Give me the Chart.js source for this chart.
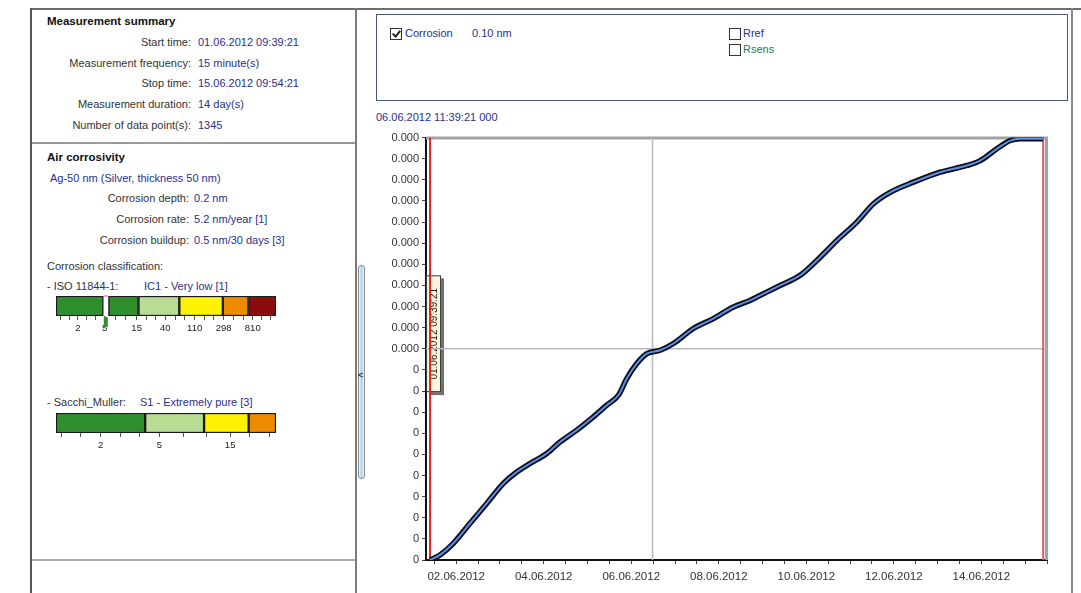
<!DOCTYPE html>
<html>
<head>
<meta charset="utf-8">
<script src="https://cdn.jsdelivr.net/npm/chart.js@4.4.0/dist/chart.umd.min.js"></script>
<style>
  html, body { margin: 0; padding: 0; background: #fff; }
  body { width: 1081px; height: 593px; position: relative; overflow: hidden;
         font-family: "Liberation Sans", Arial, sans-serif; font-size: 11px; color: #333; }
  .t { position: absolute; white-space: nowrap; line-height: 13px; }
  .hd { font-weight: bold; color: #111; font-size: 11.5px; }
  .lb { left: 0; text-align: right; }
  .v { color: #2b2f8a; }
  .ln { position: absolute; }
  .cb { position: absolute; width: 10px; height: 10px; border: 1px solid #333; background: #fff; }
  .cb.on::after { content: ""; position: absolute; left: 3px; top: 0px; width: 3px; height: 6px;
                  border: solid #222; border-width: 0 2px 2px 0; transform: rotate(40deg); }
  canvas { position: absolute; }
</style>
</head>
<body>

<!-- panel frames -->
<div class="ln" style="left:30px;top:8px;width:1051px;height:2px;background:#6e6e6e"></div>
<div class="ln" style="left:30px;top:8px;width:2px;height:585px;background:#555"></div>
<div class="ln" style="left:355px;top:8px;width:2px;height:585px;background:#7a7a7a"></div>
<div class="ln" style="left:32px;top:142px;width:323px;height:2px;background:#9a9a9a"></div>
<div class="ln" style="left:32px;top:559px;width:323px;height:2px;background:#a8a8a8"></div>
<div class="ln" style="left:1071px;top:8px;width:2px;height:585px;background:#8a8a8a"></div>

<!-- splitter handle -->
<div class="ln" style="left:358px;top:265px;width:5px;height:212px;border:1px solid #8c8c8c;border-radius:3px;background:linear-gradient(to right,#f2f8fd,#a9d1ef,#eef6fc)"></div>
<div class="t" style="left:358px;top:369px;font-size:9px;font-weight:bold;color:#333">&lt;</div>

<!-- measurement summary -->
<div class="t hd" style="left:47px;top:15px">Measurement summary</div>
<div class="t lb" style="width:191px;top:36px">Start time:</div>
<div class="t v" style="left:198px;top:36px">01.06.2012 09:39:21</div>
<div class="t lb" style="width:191px;top:57px">Measurement frequency:</div>
<div class="t v" style="left:198px;top:57px">15 minute(s)</div>
<div class="t lb" style="width:191px;top:77px">Stop time:</div>
<div class="t v" style="left:198px;top:77px">15.06.2012 09:54:21</div>
<div class="t lb" style="width:191px;top:98px">Measurement duration:</div>
<div class="t v" style="left:198px;top:98px">14 day(s)</div>
<div class="t lb" style="width:191px;top:119px">Number of data point(s):</div>
<div class="t v" style="left:198px;top:119px">1345</div>

<!-- air corrosivity -->
<div class="t hd" style="left:47px;top:151px">Air corrosivity</div>
<div class="t v" style="left:50px;top:172px">Ag-50 nm (Silver, thickness 50 nm)</div>
<div class="t lb" style="width:189px;top:192px">Corrosion depth:</div>
<div class="t v" style="left:194px;top:192px">0.2 nm</div>
<div class="t lb" style="width:189px;top:213px">Corrosion rate:</div>
<div class="t v" style="left:194px;top:213px">5.2 nm/year [1]</div>
<div class="t lb" style="width:189px;top:234px">Corrosion buildup:</div>
<div class="t v" style="left:194px;top:234px">0.5 nm/30 days [3]</div>
<div class="t" style="left:47px;top:260px">Corrosion classification:</div>
<div class="t" style="left:47px;top:280px">- ISO 11844-1:</div>
<div class="t v" style="left:144px;top:280px">IC1 - Very low [1]</div>
<div class="t" style="left:47px;top:396px">- Sacchi_Muller:</div>
<div class="t v" style="left:140px;top:396px">S1 - Extremely pure [3]</div>

<canvas id="iso" width="235" height="50" style="left:50px;top:290px"></canvas>
<canvas id="sacchi" width="235" height="50" style="left:50px;top:407px"></canvas>

<!-- series selector -->
<div class="ln" style="left:376px;top:14px;width:690px;height:85px;border:1.5px solid #4b5878"></div>
<div class="cb on" style="left:390px;top:28px"></div>
<div class="t v" style="left:405px;top:27px">Corrosion</div>
<div class="t v" style="left:472px;top:27px">0.10 nm</div>
<div class="cb" style="left:729px;top:28px"></div>
<div class="t v" style="left:743px;top:27px">Rref</div>
<div class="cb" style="left:729px;top:44px"></div>
<div class="t" style="left:743px;top:43px;color:#1f7a4c">Rsens</div>

<div class="t v" style="left:376px;top:111px">06.06.2012 11:39:21 000</div>

<canvas id="main" width="700" height="465" style="left:370px;top:128px"></canvas>

<script>
// Corrosion series: x = days since 01.06.2012 00:00, y = corrosion depth in nm
const corrosionDays = [0.4023, 0.631, 0.935, 1.317, 1.698, 2.078, 2.384, 2.688, 3.070, 3.374,
  3.755, 4.135, 4.441, 4.706, 4.898, 5.127, 5.356, 5.660, 5.964, 6.420, 6.878, 7.335, 7.716,
  7.869, 8.402, 8.860, 9.241, 9.698, 10.155, 10.535, 10.916, 11.449, 12.059, 12.669, 12.974,
  13.355, 13.660, 13.888, 14.4127];
const corrosionNm = [0, 0.0024, 0.0079, 0.0174, 0.0268, 0.0363, 0.0417, 0.0457, 0.0504, 0.0559,
  0.0615, 0.0678, 0.0733, 0.0780, 0.0859, 0.0930, 0.0977, 0.0993, 0.1025, 0.1096, 0.1143, 0.1198,
  0.1229, 0.1245, 0.1300, 0.1348, 0.1418, 0.1513, 0.1600, 0.1687, 0.1741, 0.1789, 0.1836, 0.1868,
  0.1891, 0.1947, 0.1986, 0.1995, 0.1995];

// Measurement window and cursor
const startDay = 0.4023;     // 01.06.2012 09:39:21
const stopDay = 14.4127;     // 15.06.2012 09:54:21
const cursorDay = 5.486;     // 06.06.2012 11:39:21
const cursorNm = 0.10;
const startLabel = '01.06.2012 09:39:21';

// Axis ranges and tick labels
const xMin = 0.31, xMax = 14.5;
const yMin = 0, yMax = 0.2, yStep = 0.01;
const xTickDays = [1, 3, 5, 7, 9, 11, 13];
const xTickLabels = ['02.06.2012', '04.06.2012', '06.06.2012', '08.06.2012', '10.06.2012', '12.06.2012', '14.06.2012'];
const yTickLabels = ['0', '0', '0', '0', '0', '0', '0', '0', '0', '0',
  '0.000', '0.000', '0.000', '0.000', '0.000', '0.000', '0.000', '0.000', '0.000', '0.000', '0.000'];

// Classification scales
const isoBounds = [[0.94, 4.8], [5.7, 16], [16, 65], [65, 290], [290, 700], [700, 1800]];
const isoColors = ['#2f8f2f', '#2f8f2f', '#b8dc94', '#fff200', '#f08a00', '#8a0c0c'];
const isoTicks = [2, 5, 15, 40, 110, 298, 810];
const isoRange = [0.94, 1800];
const isoRate = 5.2;
const sacchiBounds = [[1, 4], [4, 10], [10, 20], [20, 30.6]];
const sacchiColors = ['#2f8f2f', '#b8dc94', '#fff200', '#f08a00'];
const sacchiTicks = [2, 5, 15];
const sacchiRange = [1, 30.6];

const FONT = '"Liberation Sans", Arial, sans-serif';
const pts = corrosionDays.map((d, i) => ({ x: d, y: corrosionNm[i] }));
const vline = (x) => [{ x, y: yMin }, { x, y: yMax }];

// gray frame on top/right plus the rotated start-time tag
const framePlugin = {
  id: 'frame',
  beforeDatasetsDraw(chart) {
    const { ctx, chartArea: a, scales } = chart;
    ctx.save();
    ctx.strokeStyle = '#a2a2a2';
    ctx.lineWidth = 3;
    ctx.beginPath();
    ctx.moveTo(a.left, a.top + 0.5);
    ctx.lineTo(a.right - 0.5, a.top + 0.5);
    ctx.lineTo(a.right - 0.5, a.bottom);
    ctx.stroke();

    const x0 = scales.x.getPixelForValue(startDay) - 4;
    const top = scales.y.getPixelForValue(0.1348);
    const bot = scales.y.getPixelForValue(0.0795);
    const w = 15, h = bot - top;
    ctx.fillStyle = '#707070';
    ctx.fillRect(x0 + 3, top + 3, w, h);
    ctx.fillStyle = '#fbf5da';
    ctx.fillRect(x0, top, w, h);
    ctx.strokeStyle = '#3a3a3a';
    ctx.lineWidth = 1;
    ctx.strokeRect(x0 + 0.5, top + 0.5, w - 1, h - 1);
    ctx.translate(x0 + w / 2, top + h / 2);
    ctx.rotate(-Math.PI / 2);
    ctx.fillStyle = '#1e1e1e';
    ctx.font = '10px ' + FONT;
    ctx.textAlign = 'center';
    ctx.textBaseline = 'middle';
    ctx.fillText(startLabel, 0, 1);
    ctx.restore();
  }
};

new Chart(document.getElementById('main'), {
  type: 'line',
  data: {
    datasets: [
      { data: pts, borderColor: '#5a90dc', borderWidth: 2, pointRadius: 0, cubicInterpolationMode: 'monotone' },
      { data: pts, borderColor: '#0b0b1c', borderWidth: 5.5, pointRadius: 0, cubicInterpolationMode: 'monotone' },
      { data: vline(startDay), borderColor: '#e32626', borderWidth: 2, pointRadius: 0 },
      { data: vline(stopDay), borderColor: '#ec5a5a', borderWidth: 2, pointRadius: 0 },
      { data: vline(cursorDay), borderColor: '#b9b9b9', borderWidth: 1.5, pointRadius: 0 },
      { data: [{ x: xMin, y: cursorNm }, { x: xMax, y: cursorNm }], borderColor: '#b9b9b9', borderWidth: 1.5, pointRadius: 0 }
    ]
  },
  options: {
    responsive: false,
    animation: false,
    devicePixelRatio: 1,
    layout: { padding: { top: 9, right: 23, left: 0, bottom: 0 } },
    plugins: { legend: { display: false }, tooltip: { enabled: false } },
    scales: {
      x: {
        type: 'linear', min: xMin, max: xMax,
        afterBuildTicks(scale) {
          const t = [];
          for (let v = 0.5; v <= xMax + 1e-9; v += 0.5) t.push({ value: v });
          scale.ticks = t;
        },
        afterFit(scale) { scale.height = 33; },
        ticks: {
          autoSkip: false, maxRotation: 0, padding: 6, color: '#333',
          font: { family: FONT, size: 11.5 },
          callback(v) {
            const i = xTickDays.findIndex(d => Math.abs(d - v) < 1e-6);
            return i >= 0 ? xTickLabels[i] : '';
          }
        },
        grid: { drawOnChartArea: false, tickLength: 4, color: '#444' },
        border: { color: '#111', width: 2 }
      },
      y: {
        type: 'linear', min: yMin, max: yMax,
        afterBuildTicks(scale) {
          scale.ticks = yTickLabels.map((_, i) => ({ value: +(i * yStep).toFixed(2) }));
        },
        afterFit(scale) { scale.width = 56; },
        ticks: {
          autoSkip: false, padding: 3, color: '#333',
          font: { family: FONT, size: 11 },
          callback(v, i) { return yTickLabels[i]; }
        },
        grid: { drawOnChartArea: false, tickLength: 4, color: '#444' },
        border: { color: '#111', width: 2 }
      }
    }
  },
  plugins: [framePlugin]
});

// classification bar with logarithmic class scale
function classBar(id, bounds, colors, labelled, range, marker) {
  const lo = Math.log10(range[0]), hi = Math.log10(range[1]);
  const ticks = [];
  for (let k = 0; k < labelled.length - 1; k++) {
    const a = Math.log10(labelled[k]), b = Math.log10(labelled[k + 1]);
    for (let j = 0; j < 3; j++) ticks.push(Math.pow(10, a + (b - a) * j / 3));
  }
  ticks.push(labelled[labelled.length - 1]);
  const step = (Math.log10(labelled[1]) - Math.log10(labelled[0])) / 3;
  for (let v = Math.log10(labelled[0]) - step; v > lo; v -= step) ticks.unshift(Math.pow(10, v));
  for (let v = Math.log10(labelled[labelled.length - 1]) + step; v < hi; v += step) ticks.push(Math.pow(10, v));

  const markerPlugin = {
    id: 'marker',
    afterDatasetsDraw(chart) {
      if (marker == null) return;
      const { ctx, chartArea: a, scales } = chart;
      const x = scales.x.getPixelForValue(marker);
      ctx.save();
      ctx.fillStyle = '#fff';
      ctx.fillRect(x - 2, a.top + 1, 4, a.bottom - a.top - 1);
      ctx.fillStyle = '#e8a6d8';
      ctx.fillRect(x - 2, a.top - 1, 4, 2);
      ctx.fillStyle = '#2f8f2f';
      ctx.fillRect(x - 2, a.bottom + 1, 4, 10);
      ctx.restore();
    }
  };

  new Chart(document.getElementById(id), {
    type: 'bar',
    data: {
      labels: [''],
      datasets: bounds.map((b, i) => ({
        data: [b], backgroundColor: colors[i], borderColor: '#1b1b1b', borderWidth: 1.5,
        borderSkipped: false, grouped: false, barPercentage: 1, categoryPercentage: 1
      }))
    },
    options: {
      indexAxis: 'y', responsive: false, animation: false, devicePixelRatio: 1,
      layout: { padding: { top: 6, left: 6, right: 9, bottom: 0 } },
      plugins: { legend: { display: false }, tooltip: { enabled: false } },
      scales: {
        y: { display: false },
        x: {
          type: 'logarithmic', min: range[0], max: range[1],
          afterBuildTicks(scale) { scale.ticks = ticks.map(v => ({ value: v })); },
          afterFit(scale) { scale.height = 24; },
          ticks: {
            autoSkip: false, maxRotation: 0, padding: 3, color: '#1a1a1a',
            font: { family: FONT, size: 9.5 },
            callback(v) {
              const hit = labelled.find(l => Math.abs(l - v) / l < 1e-6);
              return hit != null ? String(hit) : '';
            }
          },
          grid: { drawOnChartArea: false, tickLength: 4, color: '#555' },
          border: { display: false }
        }
      }
    },
    plugins: [markerPlugin]
  });
}

classBar('iso', isoBounds, isoColors, isoTicks, isoRange, isoRate);
classBar('sacchi', sacchiBounds, sacchiColors, sacchiTicks, sacchiRange, null);
</script>
</body>
</html>
